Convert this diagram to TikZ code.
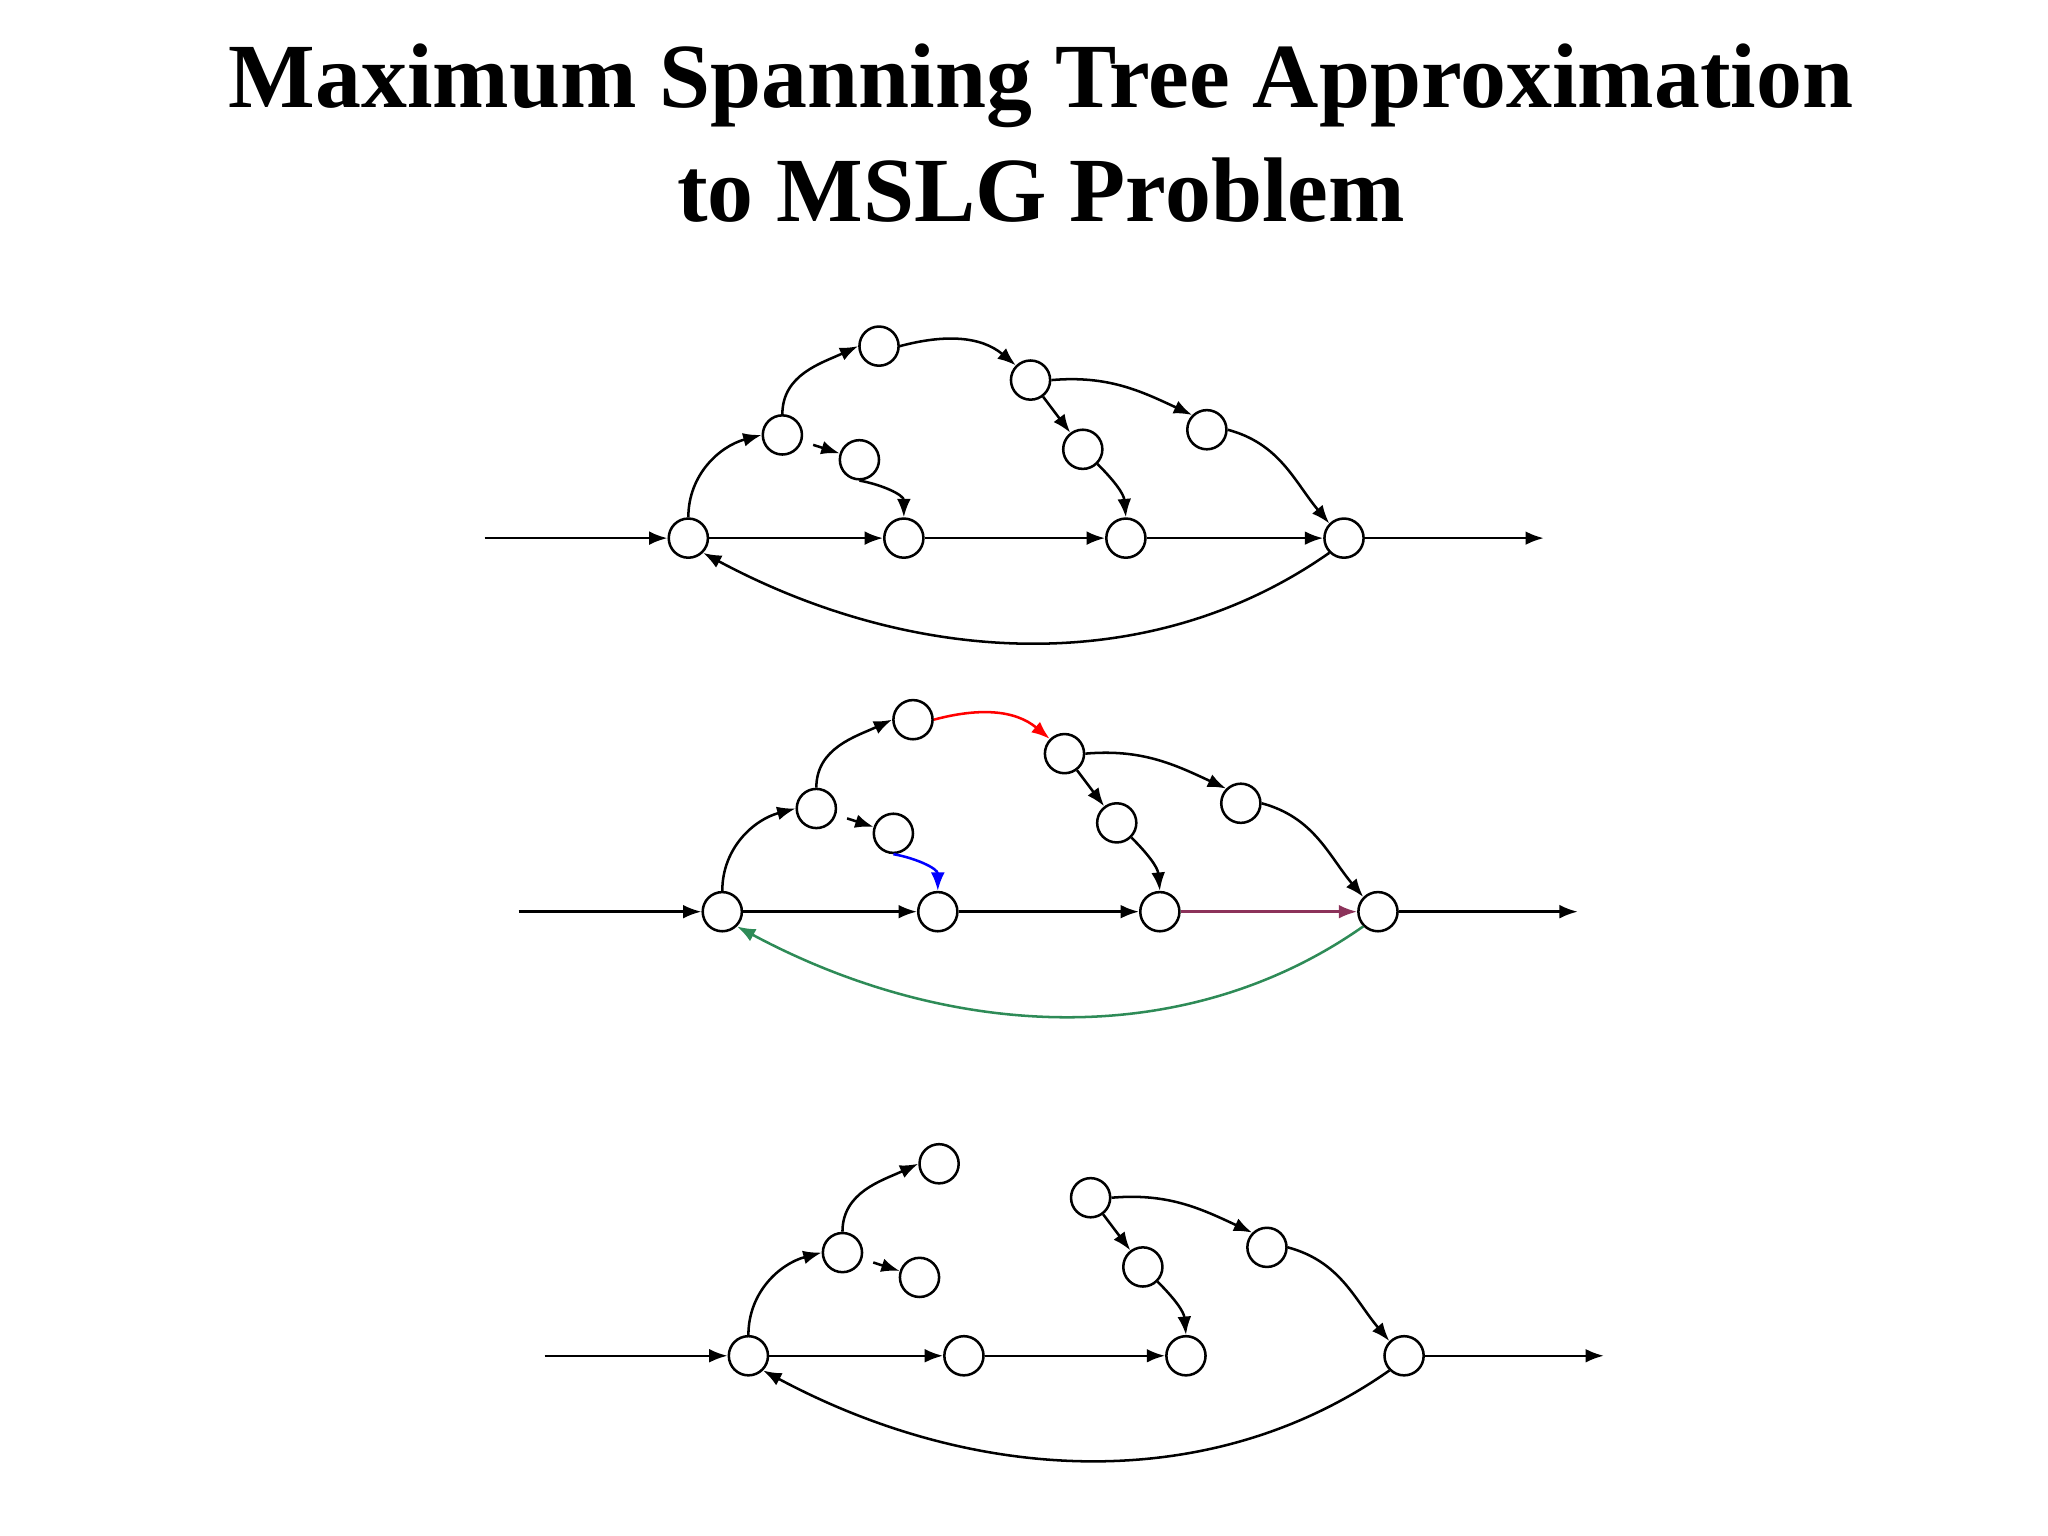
\documentclass[tikz,border=0pt]{standalone}
\usepackage{fontspec}
\setmainfont{Liberation Serif}
\usetikzlibrary{arrows.meta}
\definecolor{pur}{RGB}{140,50,90}
\definecolor{grn}{RGB}{46,139,87}
\tikzset{
  vtx/.style={circle,draw,line width=1.1pt,minimum size=0.6cm,inner sep=0pt,fill=white},
  edge/.style={line width=1.1pt,-{Latex[length=8pt,width=6pt]}},
}
\newcommand{\mygraph}[6]{%
% #1 prefix, #2 dx, #3 dy, #4 show colored edges (1/0), #5 red-ish color list handled below
\begin{scope}[shift={(#2,#3)}]
\node[vtx] (#1A) at (527,412) {};
\node[vtx] (#1B) at (692,412) {};
\node[vtx] (#1C) at (862,412) {};
\node[vtx] (#1D) at (1029,412) {};
\node[vtx] (#1a) at (599,333) {};
\node[vtx] (#1b) at (658,352) {};
\node[vtx] (#1c) at (673,265) {};
\node[vtx] (#1d) at (789,291) {};
\node[vtx] (#1e) at (829,344) {};
\node[vtx] (#1f) at (924,329) {};
\coordinate (#1in) at (371,412);
\coordinate (#1out) at (1182,412);
\end{scope}
\draw[edge] (#1in) -- (#1A);
\draw[edge] (#1A) -- (#1B);
\draw[edge] (#1B) -- (#1C);
\draw[edge] (#1D) -- (#1out);
\draw[edge] (#1A.north) to[out=90,in=195] (#1a.west);
\draw[edge] (#1a.north) to[out=90,in=205] (#1c.west);
\draw[edge,shorten <=6pt] (#1a) -- (#1b);
\draw[edge] (#1d) -- (#1e);
\draw[edge] (#1e.south east) to[out=-45,in=95] (#1C.north);
\draw[edge] (#1d.east) to[out=5,in=155] (#1f.north west);
\draw[edge] (#1f.east) to[out=-15,in=130] (#1D.north west);
\draw[edge,#6] (#1D.south) .. controls (930,{#3/0.02*0+0}) and (930,0) .. (#1D.south);
#5
}
\begin{document}
\begin{tikzpicture}[x=0.02cm,y=-0.02cm]
\useasboundingbox (0,0) rectangle (1568,1176);
\node[font=\bfseries\fontsize{40}{50}\selectfont,align=center] (title) at (797,102) {Maximum Spanning Tree Approximation\\to MSLG Problem};
% graph 1
\begin{scope}
\node[vtx] (pA) at (527,412) {};
\node[vtx] (pB) at (692,412) {};
\node[vtx] (pC) at (862,412) {};
\node[vtx] (pD) at (1029,412) {};
\node[vtx] (pa) at (599,333) {};
\node[vtx] (pb) at (658,352) {};
\node[vtx] (pc) at (673,265) {};
\node[vtx] (pd) at (789,291) {};
\node[vtx] (pe) at (829,344) {};
\node[vtx] (pf) at (924,329) {};
\coordinate (pin) at (371,412);
\coordinate (pout) at (1182,412);
\end{scope}
\begin{scope}[shift={(26,286)}]
\node[vtx] (qA) at (527,412) {};
\node[vtx] (qB) at (692,412) {};
\node[vtx] (qC) at (862,412) {};
\node[vtx] (qD) at (1029,412) {};
\node[vtx] (qa) at (599,333) {};
\node[vtx] (qb) at (658,352) {};
\node[vtx] (qc) at (673,265) {};
\node[vtx] (qd) at (789,291) {};
\node[vtx] (qe) at (829,344) {};
\node[vtx] (qf) at (924,329) {};
\coordinate (qin) at (371,412);
\coordinate (qout) at (1182,412);
\coordinate (qm1) at (880,520);
\coordinate (qm2) at (700,510);
\end{scope}
\begin{scope}[shift={(46,626)}]
\node[vtx] (rA) at (527,412) {};
\node[vtx] (rB) at (692,412) {};
\node[vtx] (rC) at (862,412) {};
\node[vtx] (rD) at (1029,412) {};
\node[vtx] (ra) at (599,333) {};
\node[vtx] (rb) at (658,352) {};
\node[vtx] (rc) at (673,265) {};
\node[vtx] (rd) at (789,291) {};
\node[vtx] (re) at (829,344) {};
\node[vtx] (rf) at (924,329) {};
\coordinate (rin) at (371,412);
\coordinate (rout) at (1182,412);
\coordinate (rm1) at (880,520);
\coordinate (rm2) at (700,510);
\end{scope}
\coordinate (pm1) at (880,520);
\coordinate (pm2) at (700,510);
\foreach \p/\cn/\cb/\cr/\cp/\cg/\hide in {p/black/black/black/black/black/0,q/blue/black/red/pur/grn/0,r/black/black/black/black/black/1}{
  \draw[edge] (\p in) -- (\p A);
  \draw[edge] (\p A) -- (\p B);
  \draw[edge] (\p B) -- (\p C);
  \draw[edge] (\p D) -- (\p out);
  \draw[edge] (\p A.north) to[out=90,in=195] (\p a.west);
  \draw[edge] (\p a.north) to[out=90,in=205] (\p c.west);
  \draw[edge,shorten <=5pt] (\p a) -- (\p b);
  \draw[edge] (\p d) -- (\p e);
  \draw[edge] (\p e.south east) to[out=-45,in=95] (\p C.north);
  \draw[edge] (\p d.east) to[out=5,in=155] (\p f.north west);
  \draw[edge] (\p f.east) to[out=-15,in=130] (\p D.north west);
  \draw[edge,color=\cg] (\p D.south west) .. controls (\p m1) and (\p m2) .. (\p A.south east);
  \ifnum\hide=0
    \draw[edge,color=\cn] (\p b.south) to[out=-10,in=90] (\p B.north);
    \draw[edge,color=\cr] (\p c.east) to[out=15,in=140] (\p d.north west);
    \draw[edge,color=\cp] (\p C) -- (\p D);
  \fi
}
\end{tikzpicture}
\end{document}
